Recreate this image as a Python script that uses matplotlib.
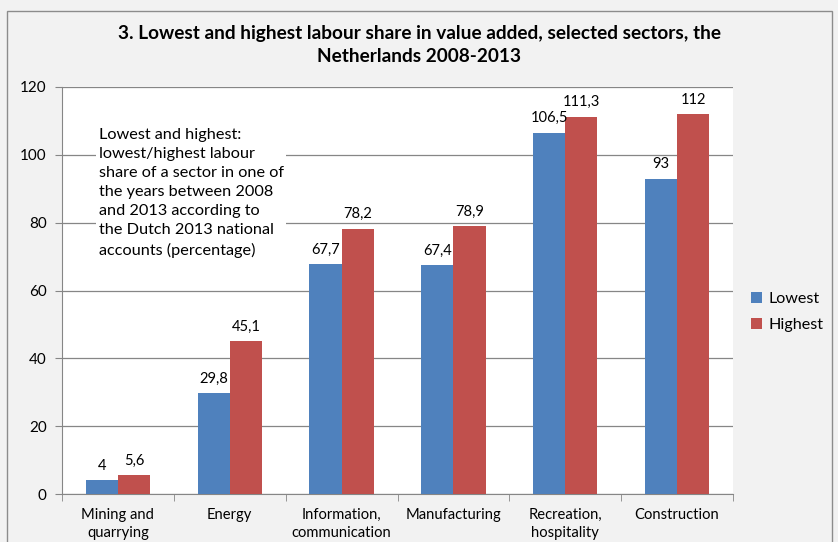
import numpy as np
import matplotlib
matplotlib.use("Agg")
import matplotlib.pyplot as plt
from matplotlib.patches import Rectangle

plt.rcParams['font.family'] = ['Lato', 'DejaVu Sans']

# data
sectors = ['Mining and\nquarrying', 'Energy', 'Information,\ncommunication',
           'Manufacturing', 'Recreation,\nhospitality', 'Construction']
lowest = [4, 29.8, 67.7, 67.4, 106.5, 93]
highest = [5.6, 45.1, 78.2, 78.9, 111.3, 112]
series_names = ['Lowest', 'Highest']
yticks = [0, 20, 40, 60, 80, 100, 120]

blue = '#4F81BD'
red = '#C0504D'
bg = '#F2F2F2'


def fmt(v):
    return f'{v:g}'.replace('.', ',')


fig = plt.figure(figsize=(8.38, 5.42), dpi=100, facecolor=bg)
fig.patches.append(Rectangle((7 / 838, -0.01), 825 / 838, 1 - 11 / 542 + 0.01,
                             transform=fig.transFigure, facecolor=bg,
                             edgecolor='#8c8c8c', lw=1.0, zorder=-5))

ax = fig.add_axes([62 / 838, 48 / 542, 671 / 838, 407 / 542])
ax.set_facecolor('white')

x = np.arange(len(sectors))
w = 0.287
b1 = ax.bar(x - w / 2, lowest, w, color=blue, label=series_names[0], zorder=3)
b2 = ax.bar(x + w / 2, highest, w, color=red, label=series_names[1], zorder=3)

for bars, vals in ((b1, lowest), (b2, highest)):
    for r, v in zip(bars, vals):
        ax.text(r.get_x() + r.get_width() / 2, v + 2.2, fmt(v), ha='center',
                va='bottom', fontsize=10.6, color='black', zorder=4)

ax.set_xlim(-0.5, len(sectors) - 0.5)
ax.set_ylim(0, 120)
ax.set_yticks(yticks)
ax.set_yticklabels([str(t) for t in yticks], fontsize=11)
ax.set_xticks(x)
ax.set_xticklabels(sectors, fontsize=10.6, linespacing=1.38)
ax.set_xticks(np.arange(len(sectors) + 1) - 0.5, minor=True)
ax.tick_params(axis='x', which='major', length=0, pad=10)
ax.tick_params(axis='x', which='minor', length=5, color='#868686', direction='out')
ax.tick_params(axis='y', length=5, color='#868686', direction='out', pad=6)
ax.grid(axis='y', color='#868686', lw=0.9, zorder=1)
for s in ('top', 'right'):
    ax.spines[s].set_visible(False)
for s in ('left', 'bottom'):
    ax.spines[s].set_color('#868686')

ax.text(0.055, 0.9,
        'Lowest and highest:\nlowest/highest labour\nshare of a sector in one of\n'
        'the years between 2008\nand 2013 according to\nthe Dutch 2013 national\n'
        'accounts (percentage)',
        transform=ax.transAxes, ha='left', va='top', fontsize=11.7,
        linespacing=1.46, zorder=5,
        bbox=dict(boxstyle='square,pad=0.15', facecolor='white', edgecolor='none'))

fig.text(0.5, 1 - 45 / 542, '3. Lowest and highest labour share in value added, selected sectors, the\nNetherlands 2008-2013',
         ha='center', va='center', fontsize=13.7, fontweight='bold', linespacing=1.5)

leg = fig.legend(handles=[b1, b2], loc='upper left', bbox_to_anchor=(736 / 838, 1 - 277 / 542),
                 frameon=False, fontsize=11.6, handlelength=0.7, handleheight=0.7,
                 handletextpad=0.4, labelspacing=0.75)

fig.savefig('out.png', dpi=100, facecolor=bg)
